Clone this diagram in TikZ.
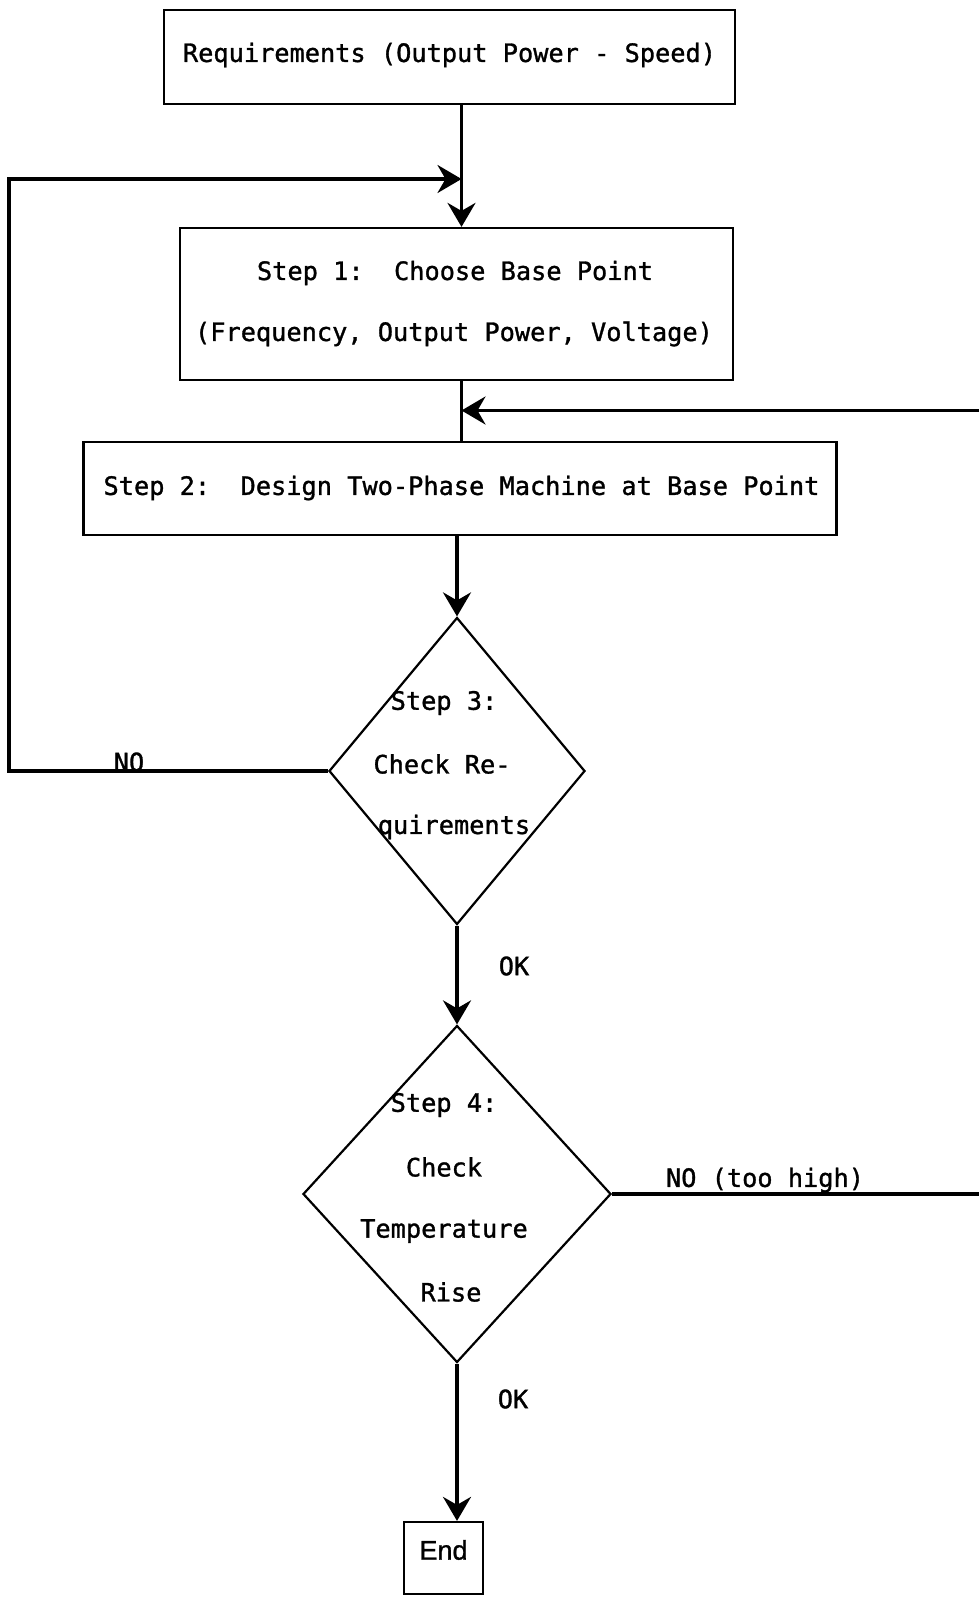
\documentclass[tikz,border=0pt]{standalone}
\usepackage{fontspec}
\usetikzlibrary{arrows.meta,shapes.geometric}
\newfontfamily\twfont[FakeBold=1.2]{DejaVu Sans Mono}
\newfontfamily\endfont[FakeBold=1]{Liberation Sans}
\begin{document}
\begin{tikzpicture}[x=1pt,y=-1pt,
  >={Stealth[length=24pt,width=28pt,inset=8pt]},
  txt/.style={font=\twfont\fontsize{25.3}{30}\selectfont, inner sep=0pt},
  boxnode/.style={draw, line width=2.2pt, inner sep=0pt},
  dia/.style={draw, diamond, line width=2.2pt, inner sep=0pt},
  conn/.style={line width=3.5pt},
  arr/.style={line width=3.5pt, ->},
]
\useasboundingbox (0,0) rectangle (979,1597);
\fill[white] (0,0) rectangle (979,1597);

% boxes
\node[boxnode, minimum width=571pt, minimum height=94pt] (b1) at (449.5,57) {};
\node[txt] (t1) at (449.5,55) {Requirements (Output Power - Speed)};

\node[boxnode, minimum width=553pt, minimum height=152pt] (b2) at (456.5,304) {};
\node[txt] (t2a) at (455,273) {Step 1:~~Choose Base Point};
\node[txt] (t2b) at (454,334) {(Frequency, Output Power, Voltage)};

\node[boxnode, minimum width=753pt, minimum height=93pt] (b3) at (460,488.5) {};
\node[txt] (t3) at (461.5,488) {Step 2:~~Design Two-Phase Machine at Base Point};

% diamonds
\node[dia, minimum width=256pt, minimum height=307pt] (d1) at (457,771) {};
\node[txt] (d1a) at (444,703) {Step 3:};
\node[txt] (d1b) at (442,764) {Check Re-};
\node[txt] (d1c) at (454,827) {quirements};

\node[dia, minimum width=308pt, minimum height=337pt] (d2) at (457,1194) {};
\node[txt] (d2a) at (444,1105) {Step 4:};
\node[txt] (d2b) at (444,1167) {Check};
\node[txt] (d2c) at (444,1231) {Temperature};
\node[txt] (d2d) at (451,1292) {Rise};

% end box
\node[boxnode, minimum width=79pt, minimum height=72pt] (e) at (443.5,1558) {};
\node[inner sep=0pt, font=\endfont\fontsize{27}{30}\selectfont] (et) at (443.5,1550) {End};

% junctions
\coordinate (j1) at (461.5,179);
\coordinate (j2) at (461.5,410.5);
\coordinate (cl1) at (9,771);
\coordinate (cl2) at (9,179);
\coordinate (cr2) at (992,410.5);

% connectors
\draw[conn] (b1.south -| j1) -- (j1);
\draw[arr] (j1) -- (b2.north -| j1);
\draw[arr] (d1.west) -- (cl1) -- (cl2) -- (j1);
\draw[conn] (b2.south -| j2) -- (b3.north -| j2);
\draw[arr] (d2.east) -- (d2.east -| cr2) -- (cr2) -- (j2);
\draw[arr] (b3.south -| d1.north) -- (d1.north);
\draw[arr] (d1.south) -- (d2.north);
\draw[arr] (d2.south) -- (e.north -| d2.south);

% labels
\node[txt] (lno1) at (129,762) {NO};
\node[txt] (lok1) at (514,966) {OK};
\node[txt] (lno2) at (765,1180) {NO (too high)};
\node[txt] (lok2) at (513,1399) {OK};
\end{tikzpicture}
\end{document}
